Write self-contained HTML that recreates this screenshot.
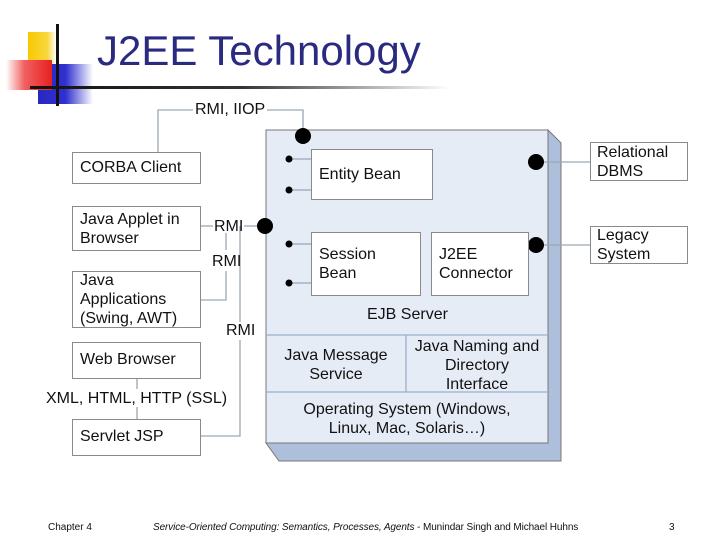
<!DOCTYPE html>
<html><head><style>
body{margin:0;width:720px;height:540px;background:#fff;position:relative;overflow:hidden;font-family:"Liberation Sans",sans-serif}
.t{position:absolute;font-size:16px;color:#111;white-space:nowrap;line-height:19px}
.b{position:absolute;border:1px solid #8a8a8a;background:#fff;box-sizing:border-box}
</style></head><body>
<div style="position:absolute;left:28px;top:32px;width:28px;height:32px;background:linear-gradient(90deg,#f8c800,#f8d840 70%,#fff)"></div>
<div style="position:absolute;left:38px;top:64px;width:55px;height:40px;background:linear-gradient(90deg,#2828c0,#3030d0 50%,#fff)"></div>
<div style="position:absolute;left:6px;top:60px;width:46px;height:30px;background:linear-gradient(90deg,#fff,#f06060 40%,#e82020)"></div>
<div style="position:absolute;left:56px;top:24px;width:3px;height:82px;background:#111"></div>
<div style="position:absolute;left:30px;top:86px;width:420px;height:3px;background:linear-gradient(90deg,#111,#333 50%,#fff)"></div>
<div class="t" style="left:97px;top:25px;font-size:42px;line-height:52px;color:#2a2a80">J2EE Technology</div>
<svg width="720" height="540" style="position:absolute;left:0;top:0">
<polygon points="548,130 561,143 561,461 279,461 266,443 548,443" fill="#aebfdc" stroke="#777"/>
<rect x="266" y="130" width="282" height="313" fill="#e6ecf6" stroke="#777"/>
<g stroke="#9aaecc" fill="none" stroke-width="1.3">
<line x1="266" y1="335" x2="548" y2="335"/><line x1="266" y1="392" x2="548" y2="392"/><line x1="406" y1="335" x2="406" y2="392"/>
</g>
<g stroke="#9aa6b4" fill="none" stroke-width="1.3">
<polyline points="158,152 158,110 193,110"/><polyline points="267,110 303,110 303,130"/>
<line x1="201" y1="226" x2="213" y2="226"/><line x1="244" y1="226" x2="258" y2="226"/>
<polyline points="226,233 226,250"/><polyline points="226,271 226,300 201,300"/>
<polyline points="240,226 240,322"/><polyline points="240,340 240,436 201,436"/>
<line x1="137" y1="379" x2="137" y2="389"/><line x1="137" y1="407" x2="137" y2="419"/>
<line x1="536" y1="162" x2="590" y2="162"/><line x1="536" y1="245" x2="590" y2="245"/>
<line x1="289" y1="159" x2="311" y2="159"/><line x1="289" y1="190" x2="311" y2="190"/>
<line x1="289" y1="244" x2="311" y2="244"/><line x1="289" y1="283" x2="311" y2="283"/>
</g>
<g fill="#000"><circle cx="303" cy="136" r="8"/><circle cx="265" cy="226" r="8"/><circle cx="536" cy="162" r="8"/><circle cx="536" cy="245" r="8"/>
<circle cx="289" cy="159" r="3.5"/><circle cx="289" cy="190" r="3.5"/><circle cx="289" cy="244" r="3.5"/><circle cx="289" cy="283" r="3.5"/></g>
</svg>
<div class="b" style="left:72px;top:152px;width:129px;height:32px"></div>
<div class="t" style="left:80px;top:158px">CORBA Client</div>
<div class="b" style="left:72px;top:206px;width:129px;height:45px"></div>
<div class="t" style="left:80px;top:210px">Java Applet in<br>Browser</div>
<div class="b" style="left:72px;top:271px;width:129px;height:57px"></div>
<div class="t" style="left:80px;top:271px">Java<br>Applications<br>(Swing, AWT)</div>
<div class="b" style="left:72px;top:342px;width:129px;height:37px"></div>
<div class="t" style="left:80px;top:350px">Web Browser</div>
<div class="b" style="left:72px;top:419px;width:129px;height:37px"></div>
<div class="t" style="left:80px;top:427px">Servlet JSP</div>
<div class="t" style="left:195px;top:100px">RMI, IIOP</div>
<div class="t" style="left:214px;top:217px">RMI</div>
<div class="t" style="left:212px;top:252px">RMI</div>
<div class="t" style="left:226px;top:321px">RMI</div>
<div class="t" style="left:46px;top:389px">XML, HTML, HTTP (SSL)</div>
<div class="b" style="left:590px;top:142px;width:98px;height:39px"></div>
<div class="t" style="left:597px;top:143px">Relational<br>DBMS</div>
<div class="b" style="left:590px;top:226px;width:98px;height:38px"></div>
<div class="t" style="left:597px;top:226px">Legacy<br>System</div>
<div class="b" style="left:311px;top:149px;width:122px;height:51px"></div>
<div class="t" style="left:319px;top:165px">Entity Bean</div>
<div class="b" style="left:311px;top:232px;width:110px;height:64px"></div>
<div class="t" style="left:319px;top:245px">Session<br>Bean</div>
<div class="b" style="left:431px;top:232px;width:98px;height:64px"></div>
<div class="t" style="left:439px;top:245px">J2EE<br>Connector</div>
<div class="t" style="left:367px;top:305px">EJB Server</div>
<div class="t" style="left:266px;top:346px;width:140px;text-align:center">Java Message<br>Service</div>
<div class="t" style="left:406px;top:337px;width:142px;text-align:center">Java Naming and<br>Directory<br>Interface</div>
<div class="t" style="left:266px;top:400px;width:282px;text-align:center">Operating System (Windows,<br>Linux, Mac, Solaris…)</div>
<div class="t" style="left:48px;top:518px;font-size:10px">Chapter 4</div>
<div class="t" style="left:153px;top:518px;font-size:10px;letter-spacing:-0.1px"><i>Service-Oriented Computing: Semantics, Processes, Agents</i> - Munindar Singh and Michael Huhns</div>
<div class="t" style="left:669px;top:518px;font-size:10px">3</div>
</body></html>
